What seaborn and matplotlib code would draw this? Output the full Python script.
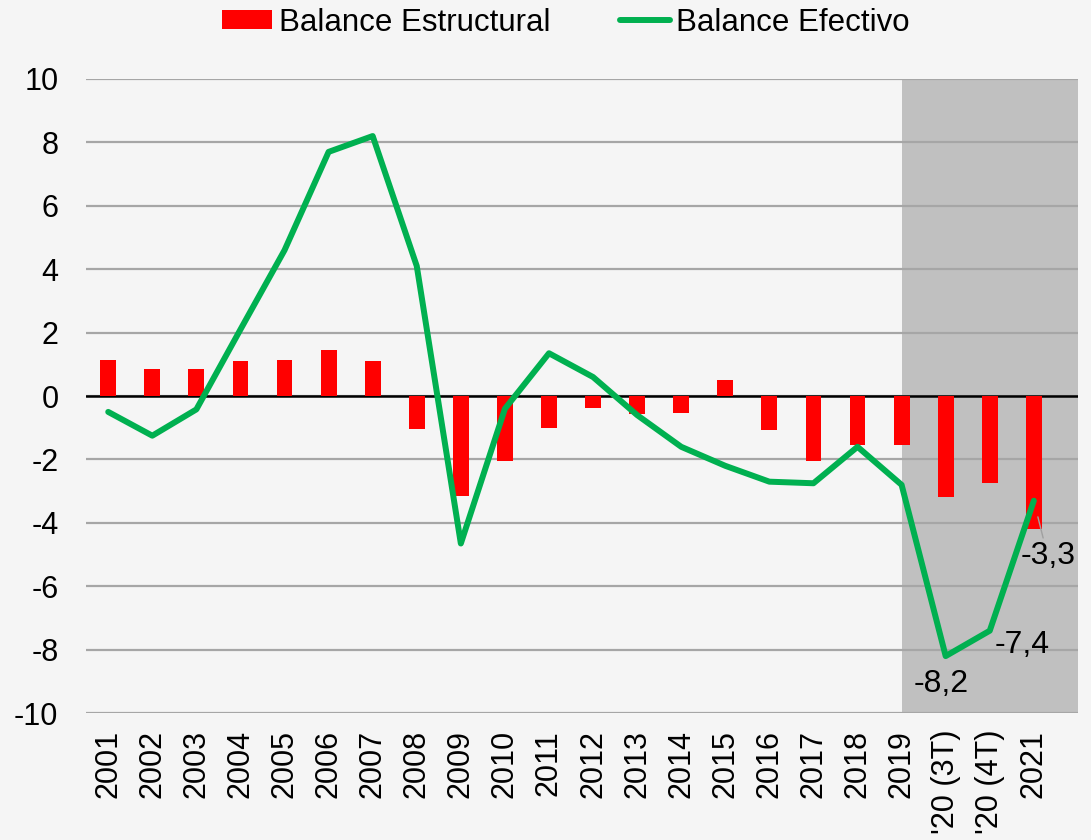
import numpy as np
import pandas as pd
import seaborn as sns
import matplotlib.pyplot as plt

# =========================
# Data
# =========================
periods = ["2001", "2002", "2003", "2004", "2005", "2006", "2007", "2008",
           "2009", "2010", "2011", "2012", "2013", "2014", "2015", "2016",
           "2017", "2018", "2019", "'20 (3T)", "'20 (4T)", "2021"]
estructural = [1.15, 0.85, 0.85, 1.1, 1.15, 1.45, 1.1, -1.05,
               -3.15, -2.05, -1.0, -0.38, -0.55, -0.53, 0.5, -1.08,
               -2.05, -1.53, -1.53, -3.18, -2.75, -4.2]
efectivo = [-0.5, -1.25, -0.42, 2.1, 4.6, 7.7, 8.2, 4.1,
            -4.65, -0.4, 1.35, 0.6, -0.6, -1.6, -2.2, -2.7,
            -2.75, -1.6, -2.8, -8.2, -7.4, -3.3]
y_ticks = [-10, -8, -6, -4, -2, 0, 2, 4, 6, 8, 10]

df = pd.DataFrame({"periodo": periods, "idx": np.arange(len(periods)),
                   "estructural": estructural, "efectivo": efectivo})

# =========================
# Style
# =========================
sns.set_style("white")
plt.rcParams["font.family"] = ["Liberation Sans", "DejaVu Sans"]
plt.rcParams["axes.unicode_minus"] = False
for k in ["text.color", "axes.labelcolor", "xtick.color", "ytick.color"]:
    plt.rcParams[k] = "black"

bg = "#f5f5f5"
fig = plt.figure(figsize=(10.91, 8.4), dpi=100, facecolor=bg)
ax = fig.add_axes([0.079, 0.151, 0.909, 0.755])
ax.set_facecolor(bg)

# shaded forecast region (from 2019 to the right edge)
ax.axvspan(18, 22.0, color="#c0c0c0", zorder=0.5, lw=0)

# gridlines
for t in y_ticks:
    ax.axhline(t, color="#a6a6a6", lw=1.6, zorder=0.8)
ax.axhline(0, color="black", lw=1.8, zorder=1)

# =========================
# Bars + line
# =========================
sns.barplot(data=df, x="idx", y="estructural", color="#ff0000",
            width=0.36, saturation=1, native_scale=True, linewidth=0,
            edgecolor="none", label="Balance Estructural", ax=ax, zorder=2)
sns.lineplot(data=df, x="idx", y="efectivo", color="#00b050", lw=4.3,
             sort=False, label="Balance Efectivo", ax=ax, zorder=3)

# value labels for the last three points
pts = {19: (-3, -20), 20: (23, -10)}
for i, off in pts.items():
    ax.annotate(f"{efectivo[i]:.1f}".replace(".", ","), (i, efectivo[i]),
                xytext=off, textcoords="offset points",
                ha="center", va="center", fontsize=23, zorder=4)
ax.annotate(f"{efectivo[21]:.1f}".replace(".", ","), (21, efectivo[21]),
            xytext=(10, -40), textcoords="offset points",
            ha="center", va="center", fontsize=23, zorder=4,
            arrowprops=dict(arrowstyle="-", color="#a0a0a0", lw=1,
                            shrinkA=0, shrinkB=12))

# =========================
# Axes
# =========================
ax.set_xlim(-0.5, 22.0)
ax.set_ylim(-10, 10)
ax.set_yticks(y_ticks)
ax.set_yticklabels([str(t) for t in y_ticks])
ax.set_xticks(df["idx"])
ax.set_xticklabels(periods, rotation=90, va="top")
ax.tick_params(axis="y", length=0, pad=20, labelsize=22)
ax.tick_params(axis="x", length=0, pad=12, labelsize=22)
ax.set_xlabel("")
ax.set_ylabel("")
sns.despine(ax=ax, left=True, bottom=True)

# legend on top, bars first
ax.legend().remove()
h, l = ax.get_legend_handles_labels()
order = [l.index("Balance Estructural"), l.index("Balance Efectivo")]
fig.legend([h[i] for i in order], [l[i] for i in order],
           loc="center", bbox_to_anchor=(0.519, 0.973), ncol=2,
           frameon=False, fontsize=22.5, handlelength=1.6, handleheight=0.57,
           handletextpad=0.22, columnspacing=2.2)

fig.savefig("out.png", dpi=100, facecolor=bg)
